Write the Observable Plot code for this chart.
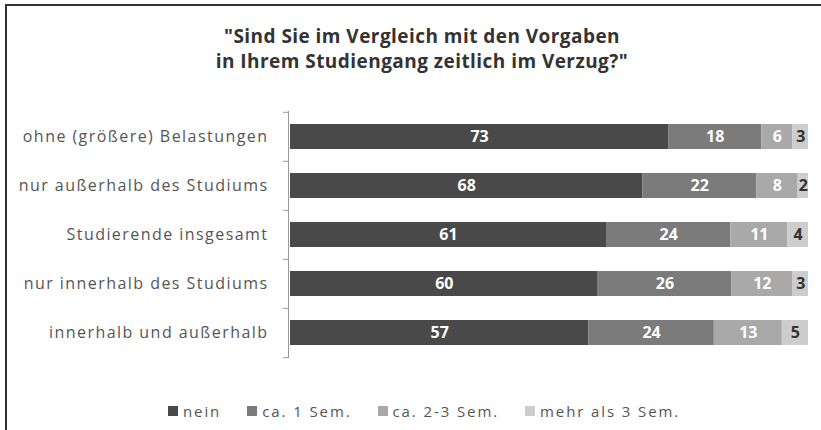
<!DOCTYPE html>
<html>
<head>
<meta charset="utf-8">
<script src="https://cdn.jsdelivr.net/npm/d3@7"></script>
<script src="https://cdn.jsdelivr.net/npm/@observablehq/plot@0.6"></script>
<style>
  body { margin: 0; background: #fff; font-family: "Open Sans", Lato, sans-serif; }
  #wrap { position: relative; width: 821px; height: 430px; overflow: hidden; }
  #frame { position: absolute; left: 5px; top: 4px; right: -5px; bottom: -5px; border-left: 2px solid #333; border-top: 2px solid #333; }
  #title { position: absolute; left: 22px; width: 800px; top: 24px; text-align: center; font-weight: bold; font-size: 19px; line-height: 25px; color: #333; letter-spacing: 0.45px; }
  #chart { position: absolute; left: 0; top: 100px; }
  #legend { position: absolute; left: 168px; top: 401px; display: flex; gap: 26px; font-size: 15px; color: #555; align-items: center; letter-spacing: 1.9px; }
  #legend .item { display: flex; align-items: center; gap: 5px; }
  #legend .sw { width: 10px; height: 10px; display: inline-block; }
  g[aria-label="y-axis tick label"] text { letter-spacing: 1.45px; }
</style>
</head>
<body>
<div id="wrap">
  <div id="frame"></div>
  <div id="title"></div>
  <div id="chart"></div>
  <div id="legend"></div>
</div>
<script>
const titleLines = ["\"Sind Sie im Vergleich mit den Vorgaben", "in Ihrem Studiengang zeitlich im Verzug?\""];
const categories = ["ohne (größere) Belastungen", "nur außerhalb des Studiums", "Studierende insgesamt", "nur innerhalb des Studiums", "innerhalb und außerhalb"];
const series = ["nein", "ca. 1 Sem.", "ca. 2-3 Sem.", "mehr als 3 Sem."];
const nein = [73, 68, 61, 60, 57];
const ca1 = [18, 22, 24, 26, 24];
const ca23 = [6, 8, 11, 12, 13];
const mehr = [3, 2, 4, 3, 5];
const colors = ["#494949", "#7b7b7b", "#a9a9a9", "#cdcdcd"];

const valuesBySeries = [nein, ca1, ca23, mehr];
const data = [];
series.forEach((s, si) => categories.forEach((c, ci) => data.push({cat: c, series: s, value: valuesBySeries[si][ci]})));

document.getElementById("title").innerHTML = titleLines.map(l => `<div>${l}</div>`).join("");

const height = 270, mt = 11, mb = 12;
const step = (height - mt - mb) / categories.length;
const pxPerUnit = (821 - 290 - 13);
const axisX = -2 / pxPerUnit;
const tickX1 = -7 / pxPerUnit;

const stackOpts = {x: "value", y: "cat", z: "series", offset: "normalize"};

const chart = Plot.plot({
  width: 821,
  height,
  marginLeft: 290,
  marginRight: 13,
  marginTop: mt,
  marginBottom: mb,
  style: {fontFamily: "'Open Sans', Lato, sans-serif", color: "#555", background: "transparent"},
  x: {domain: [0, 1], axis: null},
  y: {domain: categories, paddingInner: 0.5, paddingOuter: 0.25, label: null},
  color: {domain: series, range: colors},
  marks: [
    Plot.barX(data, Plot.stackX({...stackOpts, fill: "series"})),
    Plot.text(data, Plot.stackX({...stackOpts, text: "value", fill: d => d.series === series[3] ? "#333" : "#fff", fontSize: 16, fontWeight: "bold"})),
    Plot.ruleX([axisX], {stroke: "#999", strokeWidth: 1}),
    Plot.ruleY(categories, {y: d => d, x1: tickX1, x2: axisX, dy: -step / 2, stroke: "#999"}),
    Plot.ruleY([categories[categories.length - 1]], {y: d => d, x1: tickX1, x2: axisX, dy: step / 2, stroke: "#999"}),
    Plot.axisY({tickSize: 0, tickPadding: 22, fontSize: 16, label: null, fill: "#555"})
  ]
});
document.getElementById("chart").appendChild(chart);

const legend = document.getElementById("legend");
series.forEach((s, i) => {
  const item = document.createElement("div");
  item.className = "item";
  item.innerHTML = `<span class="sw" style="background:${colors[i]}"></span><span>${s}</span>`;
  legend.appendChild(item);
});
</script>
</body>
</html>
